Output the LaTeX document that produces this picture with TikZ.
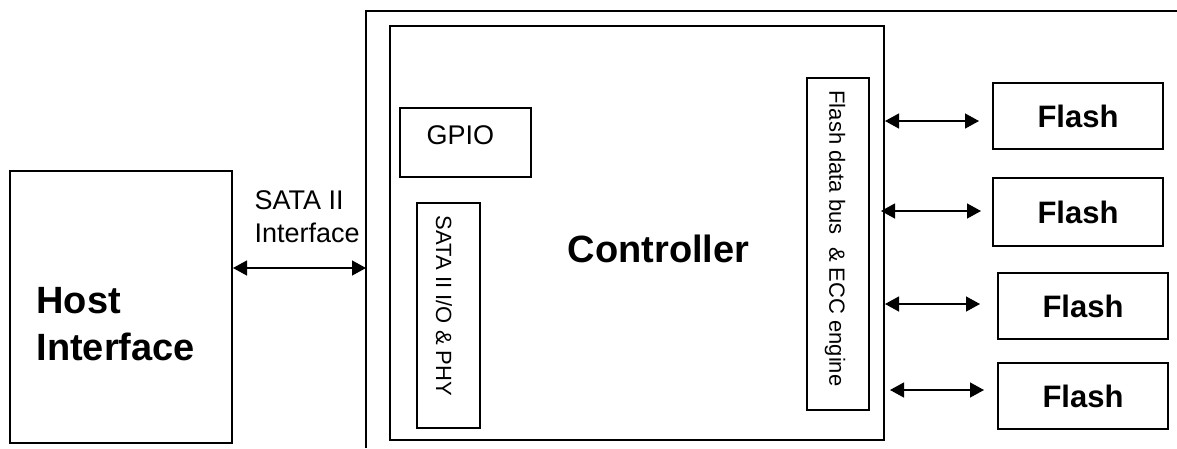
\documentclass[tikz,border=0pt]{standalone}
\usepackage{fontspec}
\setmainfont{Liberation Sans}
\usetikzlibrary{arrows.meta}

\begin{document}
\begin{tikzpicture}[x=1pt,y=-1pt]
	\tikzstyle{Block} = [draw,line width=2pt,inner sep=0pt]
	\tikzstyle{Link} = [{Triangle[length=14pt,width=15pt]}-{Triangle[length=14pt,width=15pt]},line width=1.3pt]
	\useasboundingbox (0,0) rectangle (1177,448);
	% board outline, cut off at the right and bottom
	\draw[line width=2pt] (366,448)--(366,11)--(1177,11);
	\coordinate (board) at (366,268);
	\node[Block,minimum width=222pt,minimum height=272pt] (host) at (121,307) {};
	\node[anchor=base west,align=left,font=\bfseries\fontsize{38}{47}\selectfont] (hosttext) at (33,360) {Host\\Interface};
	\node[Block,minimum width=494pt,minimum height=414pt] (ctrl) at (637,233) {};
	\node[anchor=base,font=\bfseries\fontsize{38}{46}\selectfont] (ctrltext) at (658.5,262) {Controller};
	\node[Block,minimum width=131pt,minimum height=69pt] (gpio) at (465.5,142.5) {};
	\node[anchor=base west,font=\fontsize{27}{32}\selectfont] (gpiotext) at (423,144) {GPIO};
	\node[Block,minimum width=63pt,minimum height=225pt] (phy) at (448.5,315.5) {};
	\node[rotate=-90,font=\fontsize{22}{26}\selectfont] (phytext) at (444,306) {SATA II I/O \& PHY};
	\node[Block,minimum width=62pt,minimum height=332pt] (bus) at (838,244) {};
	\node[rotate=-90,font=\fontsize{22}{26}\selectfont] (bustext) at (835,238.5) {Flash data bus\ \ \& ECC engine};
	\node[anchor=base west,align=left,font=\fontsize{27}{33}\selectfont] (satatext) at (251,242) {SATA II\\Interface};
	% flash chips
	\node[Block,minimum width=170pt,minimum height=66pt,font=\bfseries\fontsize{31}{37}\selectfont] (flash1) at (1078,116) {Flash};
	\node[Block,minimum width=170pt,minimum height=68pt,font=\bfseries\fontsize{31}{37}\selectfont] (flash2) at (1078,212) {Flash};
	\node[Block,minimum width=170pt,minimum height=66pt,font=\bfseries\fontsize{31}{37}\selectfont] (flash3) at (1083,306) {Flash};
	\node[Block,minimum width=170pt,minimum height=66pt,font=\bfseries\fontsize{31}{37}\selectfont] (flash4) at (1083,396) {Flash};
	% links
	\draw[Link] (host.east |- board) -- (board);
	\draw[Link,shorten >=13pt] (ctrl.east |- 0,121) -- (flash1.west |- 0,121);
	\draw[Link,shorten >=11pt,shorten <=-4pt] (ctrl.east |- 0,211) -- (flash2.west |- 0,211);
	\draw[Link,shorten >=17pt] (ctrl.east |- 0,304) -- (flash3.west |- 0,304);
	\draw[Link,shorten >=13pt,shorten <=5pt] (ctrl.east |- 0,390) -- (flash4.west |- 0,390);
\end{tikzpicture}
\end{document}
